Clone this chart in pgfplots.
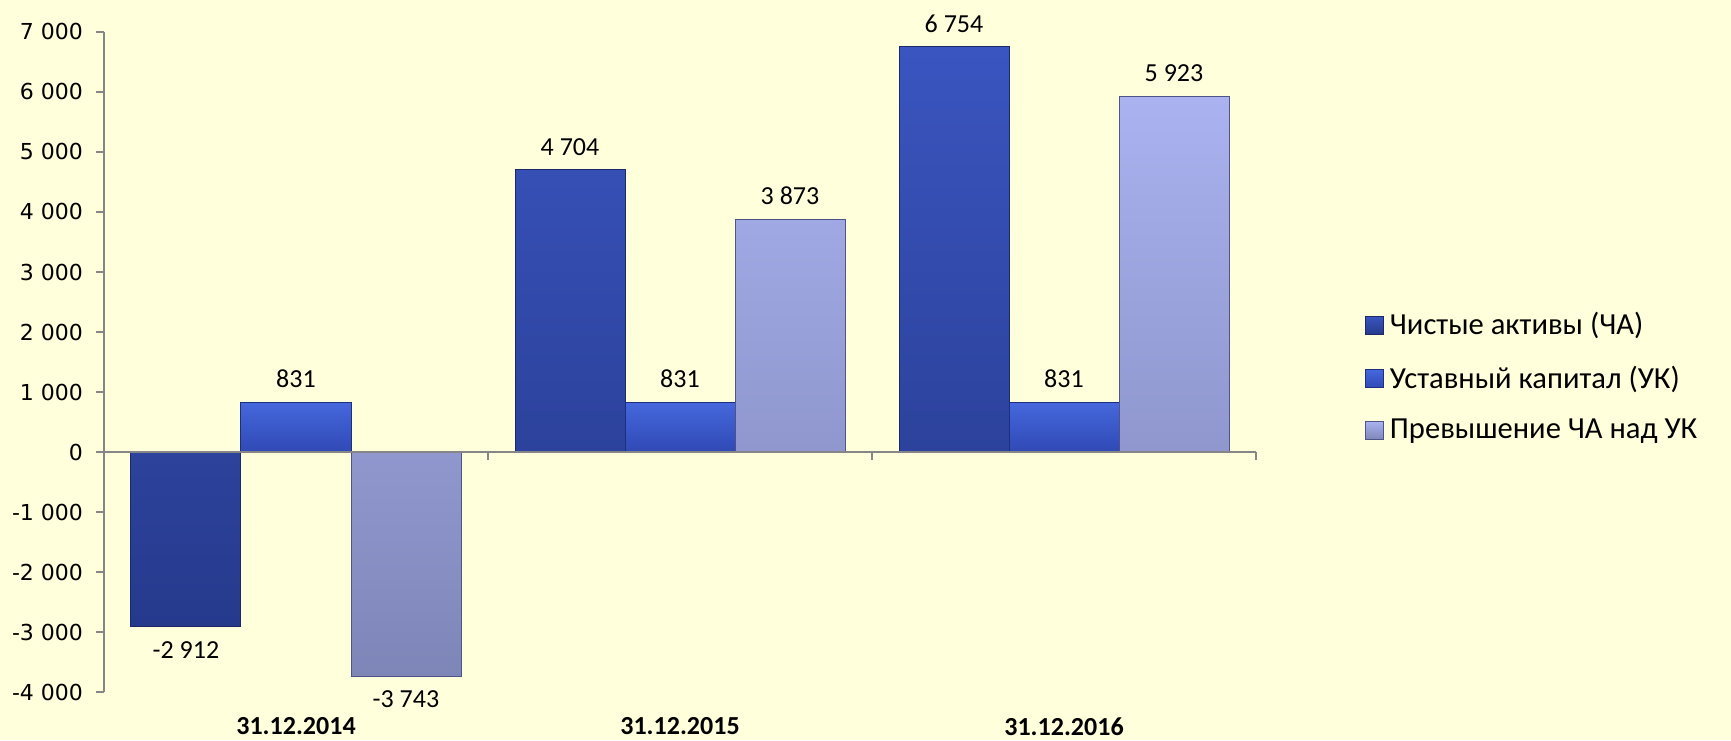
\documentclass[border=0pt]{standalone}
\usepackage{fontspec}
\setmainfont{Carlito}
\newfontfamily\tickfont{DejaVu Sans}
\usepackage{pgfplots}
\pgfplotsset{compat=1.18}
\definecolor{bg}{HTML}{FFFFDC}
\definecolor{sAt}{HTML}{3A55C0}
\definecolor{sAb}{HTML}{263A8C}
\definecolor{sAe}{HTML}{1C2966}
\definecolor{sBt}{HTML}{4568DC}
\definecolor{sBb}{HTML}{3049B5}
\definecolor{sBe}{HTML}{1F2F80}
\definecolor{sCt}{HTML}{AAB2F0}
\definecolor{sCb}{HTML}{7E86B8}
\definecolor{sCe}{HTML}{4E5488}
\definecolor{axgray}{HTML}{868686}
\begin{document}
\begin{tikzpicture}
\fill[bg] (0,0) rectangle (865.5pt,370pt);
\begin{axis}[
  at={(52pt,24pt)}, anchor=south west,
  scale only axis, width=576pt, height=330pt,
  xmin=0.5, xmax=3.5, ymin=-4000, ymax=7000,
  ybar=0pt, bar width=55pt,
  axis x line*=bottom, axis y line*=left,
  x axis line style={draw=none},
  y axis line style={draw=axgray, line width=0.8pt},
  xtick={1,2,3},
  xticklabels={31.12.2014,31.12.2015,31.12.2016},
  xtick style={draw=none},
  xticklabel style={font=\bfseries\fontsize{13}{15}\selectfont, anchor=north, inner sep=0pt, yshift=-8.5pt},
  ytick={-4000,-3000,...,7000},
  tick align=outside, major tick length=4pt,
  ytick style={draw=axgray, line width=0.8pt},
  yticklabel style={font=\tickfont\fontsize{11}{13}\selectfont, xshift=-3pt},
  /pgf/number format/.cd, assume math mode=true, 1000 sep={\ },
  /pgfplots/.cd,
  point meta=y,
  nodes near coords,
  every node near coord/.append style={font=\fontsize{13}{15}\selectfont, text=black, inner ysep=7pt},
  legend style={at={(1.089,0.477)}, anchor=west, draw=none, fill=none,
    font=\fontsize{15.3}{18}\selectfont, row sep=10pt, legend cell align=left,
    nodes={inner xsep=3pt}},
  sqleg/.style={legend image code/.code={\draw[##1] (0pt,-4.5pt) rectangle (9pt,4.5pt);}},
  clip=false,
]
\addplot[sqleg, draw=sAe, line width=0.5pt, top color=sAt, bottom color=sAb]
  coordinates {(1,-2912) (2,4704) (3,6754)};
\addlegendentry{Чистые активы (ЧА)}
\addplot[sqleg, draw=sBe, line width=0.5pt, top color=sBt, bottom color=sBb]
  coordinates {(1,831) (2,831) (3,831)};
\addlegendentry{Уставный капитал (УК)}
\addplot[sqleg, draw=sCe, line width=0.5pt, top color=sCt, bottom color=sCb]
  coordinates {(1,-3743) (2,3873) (3,5923)};
\addlegendentry{Превышение ЧА над УК}
\draw[axgray, line width=0.8pt] (axis cs:0.5,0) -- (axis cs:3.5,0);
\draw[axgray, line width=0.8pt] (axis cs:1.5,0) -- ([yshift=-4pt]axis cs:1.5,0);
\draw[axgray, line width=0.8pt] (axis cs:2.5,0) -- ([yshift=-4pt]axis cs:2.5,0);
\draw[axgray, line width=0.8pt] (axis cs:3.5,0) -- ([yshift=-4pt]axis cs:3.5,0);
\end{axis}
\end{tikzpicture}
\end{document}
